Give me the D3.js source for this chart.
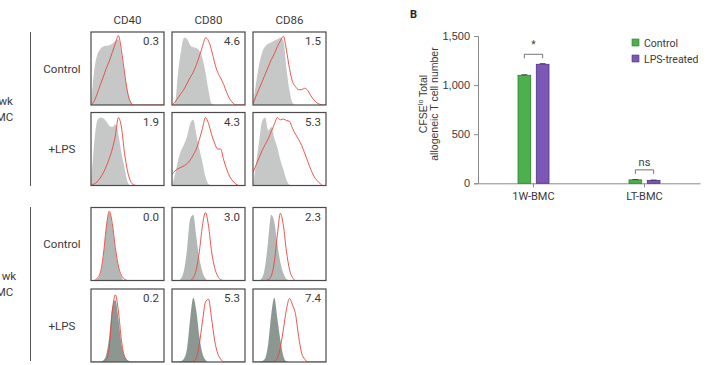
<!DOCTYPE html>
<html>
<head>
<meta charset="utf-8">
<script src="https://cdn.jsdelivr.net/npm/d3@7"></script>
<style>
body { margin: 0; background: #fff; }
svg { display: block; }
.lbl { font-family: Roboto, "Noto Sans", sans-serif; fill: #3a3a3a; }
.num { font-family: "Liberation Sans", Arial, sans-serif; fill: #3a3a3a; }
</style>
</head>
<body>
<svg id="chart"></svg>
<script>
// panel A - flow histograms (values are fraction of panel height, 25 steps across the x range)
const markers = ['CD40', 'CD80', 'CD86'];
const rowLabels = ['Control', '+LPS', 'Control', '+LPS'];
const groupLabels = [['1 wk', 'BMC'], ['12 wk', 'BMC']];
const pctRow1 = ['0.3', '4.6', '1.5'];
const pctRow2 = ['1.9', '4.3', '5.3'];
const pctRow3 = ['0.0', '3.0', '2.3'];
const pctRow4 = ['0.2', '5.3', '7.4'];

// row 1: 1 wk control
const gray1_CD40 = [0, .45, .68, .76, .8, .81, .82, .84, .88, .9, .7, .42, .2, .05, 0, 0, 0, 0, 0, 0, 0, 0, 0, 0, 0];
const red1_CD40  = [0, .05, .15, .27, .38, .5, .6, .72, .84, .95, .75, .45, .18, .04, 0, 0, 0, 0, 0, 0, 0, 0, 0, 0, 0];
const gray1_CD80 = [0, .02, .45, .75, .92, .9, .82, .79, .78, .74, .64, .45, .2, .02, 0, 0, 0, 0, 0, 0, 0, 0, 0, 0, 0];
const red1_CD80  = [0, .04, .1, .16, .22, .3, .38, .45, .55, .67, .8, .92, .88, .75, .58, .45, .37, .28, .17, .08, .03, 0, 0, 0, 0];
const gray1_CD86 = [0, .3, .55, .72, .8, .84, .86, .88, .9, .92, .88, .5, .2, .03, 0, 0, 0, 0, 0, 0, 0, 0, 0, 0, 0];
const red1_CD86  = [.02, .12, .22, .32, .42, .52, .62, .7, .8, .88, .94, .75, .5, .32, .25, .21, .21, .23, .2, .13, .07, .03, .01, 0, 0];
// row 2: 1 wk + LPS
const gray2_CD40 = [0, .55, .88, .93, .92, .88, .82, .8, .84, .7, .45, .25, .05, 0, 0, 0, 0, 0, 0, 0, 0, 0, 0, 0, 0];
const red2_CD40  = [0, .02, .05, .1, .17, .26, .37, .5, .68, .93, .8, .45, .2, .06, .01, 0, 0, 0, 0, 0, 0, 0, 0, 0, 0];
const gray2_CD80 = [0, .15, .35, .48, .57, .68, .85, .9, .7, .5, .32, .12, .02, 0, 0, 0, 0, 0, 0, 0, 0, 0, 0, 0, 0];
const red2_CD80  = [.15, .2, .23, .25, .27, .3, .35, .42, .5, .63, .78, .93, .85, .7, .58, .5, .5, .35, .22, .12, .06, .02, 0, 0, 0];
const gray2_CD86 = [0, .3, .6, .88, .93, .75, .8, .65, .52, .35, .22, .08, .01, 0, 0, 0, 0, 0, 0, 0, 0, 0, 0, 0, 0];
const red2_CD86  = [.18, .28, .38, .48, .56, .64, .74, .84, .93, .9, .91, .89, .88, .78, .7, .63, .55, .44, .33, .22, .13, .07, .03, 0, 0];
// row 3: LT control
const gray3_CD40 = [0, 0, .02, .08, .3, .7, .93, .75, .42, .18, .05, 0, 0, 0, 0, 0, 0, 0, 0, 0, 0, 0, 0, 0, 0];
const red3_CD40  = [0, 0, .03, .1, .33, .72, .95, .78, .45, .2, .07, .02, 0, 0, 0, 0, 0, 0, 0, 0, 0, 0, 0, 0, 0];
const gray3_CD80 = [0, 0, 0, .03, .15, .45, .85, .9, .6, .3, .12, .03, 0, 0, 0, 0, 0, 0, 0, 0, 0, 0, 0, 0, 0];
const red3_CD80  = [0, 0, 0, 0, 0, 0, 0, .04, .15, .4, .75, .93, .75, .4, .18, .06, .01, 0, 0, 0, 0, 0, 0, 0, 0];
const gray3_CD86 = [0, 0, 0, .04, .2, .55, .9, .8, .5, .25, .1, .02, 0, 0, 0, 0, 0, 0, 0, 0, 0, 0, 0, 0, 0];
const red3_CD86  = [0, 0, 0, 0, 0, .01, .06, .25, .62, .92, .75, .4, .15, .04, 0, 0, 0, 0, 0, 0, 0, 0, 0, 0, 0];
// row 4: LT + LPS
const gray4_CD40 = [0, 0, 0, 0, .02, .1, .35, .75, .85, .6, .25, .08, .02, 0, 0, 0, 0, 0, 0, 0, 0, 0, 0, 0, 0];
const red4_CD40  = [0, 0, 0, 0, 0, .03, .2, .7, .92, .7, .3, .08, .02, 0, 0, 0, 0, 0, 0, 0, 0, 0, 0, 0, 0];
const gray4_CD80 = [0, 0, 0, .01, .05, .2, .6, .88, .7, .35, .12, .03, 0, 0, 0, 0, 0, 0, 0, 0, 0, 0, 0, 0, 0];
const red4_CD80  = [0, 0, 0, 0, 0, 0, 0, .01, .06, .25, .55, .82, .86, .6, .3, .12, .04, 0, 0, 0, 0, 0, 0, 0, 0];
const gray4_CD86 = [0, 0, 0, .01, .05, .25, .65, .88, .6, .3, .08, .01, 0, 0, 0, 0, 0, 0, 0, 0, 0, 0, 0, 0, 0];
const red4_CD86  = [0, 0, 0, 0, 0, 0, 0, .01, .05, .2, .45, .72, .87, .78, .65, .35, .12, .04, 0, 0, 0, 0, 0, 0, 0];

// panel B - bar chart
const groups = ['1W-BMC', 'LT-BMC'];
const seriesNames = ['Control', 'LPS-treated'];
const controlVals = [1100, 35];
const lpsVals = [1212, 30];
const controlErr = [6, 4];
const lpsErr = [7, 3];
const yTicks = [0, 500, 1000, 1500];
const sigLabels = ['*', 'ns'];

const W = 710, H = 365;
const svg = d3.select('#chart').attr('width', W).attr('height', H);
svg.append('rect').attr('width', W).attr('height', H).attr('fill', '#fff');

// ---------- panel A ----------
const rows = [
	{ pct: pctRow1, gray: [gray1_CD40, gray1_CD80, gray1_CD86], red: [red1_CD40, red1_CD80, red1_CD86], fill: '#c5c8c7' },
	{ pct: pctRow2, gray: [gray2_CD40, gray2_CD80, gray2_CD86], red: [red2_CD40, red2_CD80, red2_CD86], fill: '#c5c8c7' },
	{ pct: pctRow3, gray: [gray3_CD40, gray3_CD80, gray3_CD86], red: [red3_CD40, red3_CD80, red3_CD86], fill: '#b3b8b6' },
	{ pct: pctRow4, gray: [gray4_CD40, gray4_CD80, gray4_CD86], red: [red4_CD40, red4_CD80, red4_CD86], fill: '#8d9792' },
];
const colX = [91, 172, 253];
const rowY = [32, 112.5, 207.5, 289];
const pw = 73, ph = 73;

markers.forEach((m, j) => {
	svg.append('text').attr('class', 'lbl')
		.attr('x', colX[j] + pw / 2).attr('y', 24)
		.attr('text-anchor', 'middle').attr('font-size', 11.5)
		.text(m);
});

rows.forEach((r, i) => {
	svg.append('text').attr('class', 'lbl')
		.attr('x', 62).attr('y', rowY[i] + ph / 2 + 4)
		.attr('text-anchor', 'middle').attr('font-size', 11.5)
		.text(rowLabels[i]);

	r.gray.forEach((g, j) => {
		let x0 = colX[j], y0 = rowY[i];
		let xs = d3.scaleLinear().domain([0, g.length - 1]).range([x0, x0 + pw]);
		let ys = d3.scaleLinear().domain([0, 1]).range([y0 + ph, y0]);
		let id = 'clip' + i + '_' + j;
		svg.append('clipPath').attr('id', id)
			.append('rect').attr('x', x0).attr('y', y0).attr('width', pw).attr('height', ph);
		let p = svg.append('g').attr('clip-path', 'url(#' + id + ')');

		p.append('path')
			.attr('d', d3.area().x((d, k) => xs(k)).y0(ys(0)).y1(d => ys(d)).curve(d3.curveMonotoneX)(g))
			.attr('fill', r.fill);
		p.append('path')
			.attr('d', d3.line().x((d, k) => xs(k)).y(d => ys(d)).curve(d3.curveMonotoneX)(r.red[j]))
			.attr('fill', 'none').attr('stroke', '#e8453c').attr('stroke-width', 0.9);

		svg.append('rect').attr('x', x0).attr('y', y0).attr('width', pw).attr('height', ph)
			.attr('fill', 'none').attr('stroke', '#4a4a4a').attr('stroke-width', 1.2);

		svg.append('text').attr('class', 'lbl')
			.attr('x', x0 + pw - 5).attr('y', y0 + 13)
			.attr('text-anchor', 'end').attr('font-size', 11.5)
			.text(r.pct[j]);
	});
});

// group brackets + group labels (cut off by the left edge, as in the source figure)
[[32, 186], [207, 361]].forEach((yy, g) => {
	svg.append('line').attr('x1', 30.5).attr('x2', 30.5).attr('y1', yy[0]).attr('y2', yy[1])
		.attr('stroke', '#555').attr('stroke-width', 1);
	let mid = (yy[0] + yy[1]) / 2;
	groupLabels[g].forEach((t, k) => {
		svg.append('text').attr('class', 'lbl')
			.attr('x', 1).attr('y', mid - 4 + k * 16)
			.attr('text-anchor', 'middle').attr('font-size', 11.5)
			.text(t);
	});
});

// ---------- panel B ----------
svg.append('text').attr('x', 410).attr('y', 18)
	.attr('font-family', 'Roboto, sans-serif').attr('font-weight', 'bold')
	.attr('font-size', 11).attr('fill', '#222').text('B');

const bx = d3.scaleBand().domain(groups).range([478, 700]);
const bx1 = d3.scaleBand().domain(seriesNames).range([-15.5, 15.5]).paddingInner(0.306);
const by = d3.scaleLinear().domain([0, 1500]).range([183.3, 36]);
const colors = { 'Control': '#4cb04c', 'LPS-treated': '#7d57b6' };
const strokes = { 'Control': '#2f7f32', 'LPS-treated': '#4e3385' };

const yAxis = svg.append('g').attr('transform', 'translate(478,0)')
	.call(d3.axisLeft(by).tickValues(yTicks).tickFormat(d3.format(',')).tickSize(4).tickPadding(4));
yAxis.selectAll('text').attr('class', 'num').attr('font-size', 11).attr('fill', '#3a3a3a');
yAxis.selectAll('line,path').attr('stroke', '#8a8a8a');

const xAxis = svg.append('g').attr('transform', 'translate(0,183.3)')
	.call(d3.axisBottom(bx).tickSize(4).tickSizeOuter(0).tickPadding(5));
xAxis.selectAll('text').attr('class', 'lbl').attr('font-size', 11).attr('fill', '#3a3a3a');
xAxis.selectAll('line,path').attr('stroke', '#8a8a8a');

const barData = [];
groups.forEach((g, i) => {
	barData.push({ g: g, s: 'Control', v: controlVals[i], e: controlErr[i] });
	barData.push({ g: g, s: 'LPS-treated', v: lpsVals[i], e: lpsErr[i] });
});

svg.selectAll('.bar')
	.data(barData)
	.enter()
	.append('rect')
	.attr('class', 'bar')
	.attr('x', d => bx(d.g) + bx.bandwidth() / 2 + bx1(d.s))
	.attr('y', d => by(d.v))
	.attr('width', bx1.bandwidth())
	.attr('height', d => by(0) - by(d.v))
	.attr('fill', d => colors[d.s])
	.attr('stroke', d => strokes[d.s])
	.attr('stroke-width', 0.8);

// error bars
barData.forEach(d => {
	let cx = bx(d.g) + bx.bandwidth() / 2 + bx1(d.s) + bx1.bandwidth() / 2;
	svg.append('line').attr('x1', cx).attr('x2', cx).attr('y1', by(d.v)).attr('y2', by(d.v + d.e))
		.attr('stroke', '#333').attr('stroke-width', 0.8);
	svg.append('line').attr('x1', cx - 3).attr('x2', cx + 3).attr('y1', by(d.v + d.e)).attr('y2', by(d.v + d.e))
		.attr('stroke', '#333').attr('stroke-width', 0.8);
});

// significance brackets
groups.forEach((g, i) => {
	let c = bx(g) + bx.bandwidth() / 2;
	let xa = c + bx1('Control') + bx1.bandwidth() / 2;
	let xb = c + bx1('LPS-treated') + bx1.bandwidth() / 2;
	let top = by(Math.max(controlVals[i], lpsVals[i])) - 10;
	svg.append('path')
		.attr('d', 'M' + xa + ',' + (top + 4) + 'V' + top + 'H' + xb + 'V' + (top + 4))
		.attr('fill', 'none').attr('stroke', '#666').attr('stroke-width', 0.9);
	svg.append('text').attr('class', 'lbl')
		.attr('x', c).attr('y', top - (i == 0 ? 6 : 4))
		.attr('text-anchor', 'middle').attr('font-size', i == 0 ? 10 : 11)
		.text(sigLabels[i]);
});

// y label
const yl = svg.append('text').attr('class', 'num')
	.attr('transform', 'translate(427,104) rotate(-90)')
	.attr('text-anchor', 'middle').attr('font-size', 10.5);
yl.append('tspan').text('CFSE');
yl.append('tspan').attr('font-size', 7).attr('dy', -4).text('lo');
yl.append('tspan').attr('dy', 4).text(' Total');
svg.append('text').attr('class', 'num')
	.attr('transform', 'translate(438,104) rotate(-90)')
	.attr('text-anchor', 'middle').attr('font-size', 10.5)
	.text('allogeneic T cell number');

// legend
seriesNames.forEach((s, i) => {
	svg.append('rect').attr('x', 632).attr('y', 39 + i * 16).attr('width', 7).attr('height', 7)
		.attr('fill', colors[s]).attr('stroke', strokes[s]).attr('stroke-width', 0.6);
	svg.append('text').attr('class', 'lbl')
		.attr('x', 644).attr('y', 46.5 + i * 16).attr('font-size', 10.5)
		.text(s);
});
</script>
</body>
</html>
